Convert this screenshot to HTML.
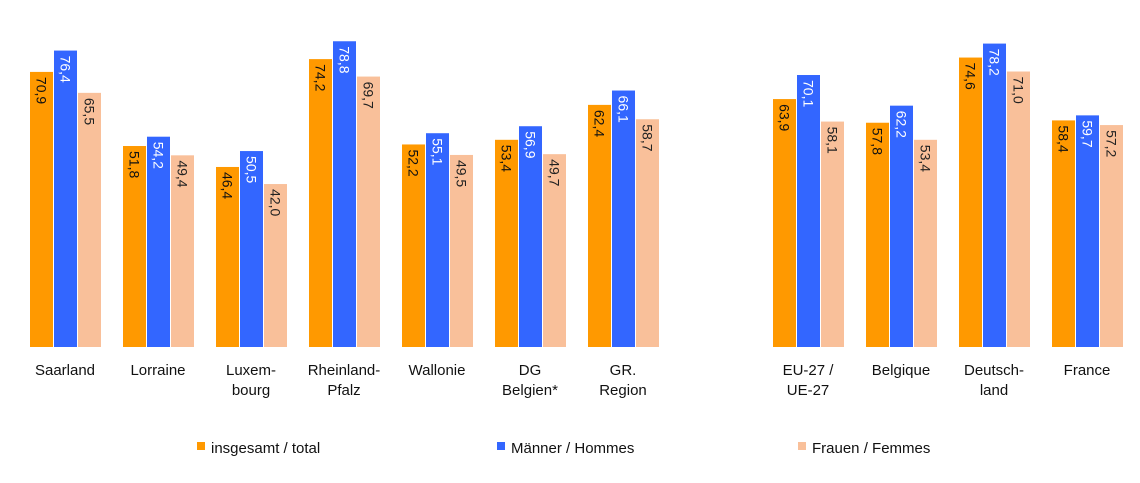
<!DOCTYPE html>
<html><head><meta charset="utf-8"><style>
body{margin:0;background:#fff;}
svg{display:block;font-family:"Liberation Sans",sans-serif;}
</style></head><body>
<svg id="chart" width="1140" height="483" viewBox="0 0 1140 483">
<g id="bars"></g>
<g id="labels"></g>
<g>
 <rect x="197" y="442" width="8" height="8" fill="#FF9900"/>
 <text x="211" y="453" font-size="15" fill="#111">insgesamt / total</text>
 <rect x="497" y="442" width="8" height="8" fill="#3366FF"/>
 <text x="511" y="453" font-size="15" fill="#111">Männer / Hommes</text>
 <rect x="798" y="442" width="8" height="8" fill="#F9C09A"/>
 <text x="812" y="453" font-size="15" fill="#111">Frauen / Femmes</text>
</g>
</svg>
<script>
const categories=[["Saarland"],["Lorraine"],["Luxem-","bourg"],["Rheinland-","Pfalz"],["Wallonie"],["DG","Belgien*"],["GR.","Region"],["EU-27 /","UE-27"],["Belgique"],["Deutsch-","land"],["France"]];
const total=[70.9,51.8,46.4,74.2,52.2,53.4,62.4,63.9,57.8,74.6,58.4];
const men=[76.4,54.2,50.5,78.8,55.1,56.9,66.1,70.1,62.2,78.2,59.7];
const women=[65.5,49.4,42.0,69.7,49.5,49.7,58.7,58.1,53.4,71.0,57.2];
const NS="http://www.w3.org/2000/svg";
const base=347,scale=3.88,bw=24;
function y(v){return base-v*scale;}
function gx(i){return i<7?30+i*93:773+(i-7)*93;}
const series=[[total,"#FF9900","#111","total"],[men,"#3366FF","#fff","men"],[women,"#F9C09A","#222","women"]];
const bars=document.getElementById("bars"),labels=document.getElementById("labels");
categories.forEach((c,i)=>{
 series.forEach((s,k)=>{
  const v=s[0][i],x=gx(i)+k*bw;
  const r=document.createElementNS(NS,"rect");
  r.setAttribute("x",x);r.setAttribute("y",y(v));r.setAttribute("width",bw-1);r.setAttribute("height",base-y(v));r.setAttribute("fill",s[1]);
  
  
  bars.appendChild(r);
  const t=document.createElementNS(NS,"text");
  const cx=x+(bw-1)/2,ty=y(v)+5;
  t.setAttribute("transform","translate("+(cx-5)+","+ty+") rotate(90)");
  t.setAttribute("font-size","14");t.setAttribute("fill",s[2]);
  t.textContent=v.toFixed(1).replace(".",",");
  
  
  bars.appendChild(t);
 });
 c.forEach((line,j)=>{
  const t=document.createElementNS(NS,"text");
  t.setAttribute("x",gx(i)+35);t.setAttribute("y",375+j*20);t.setAttribute("text-anchor","middle");t.setAttribute("font-size","15");t.setAttribute("fill","#111");
  t.textContent=line;
  
  
  labels.appendChild(t);
 });
});
</script>
</body></html>
